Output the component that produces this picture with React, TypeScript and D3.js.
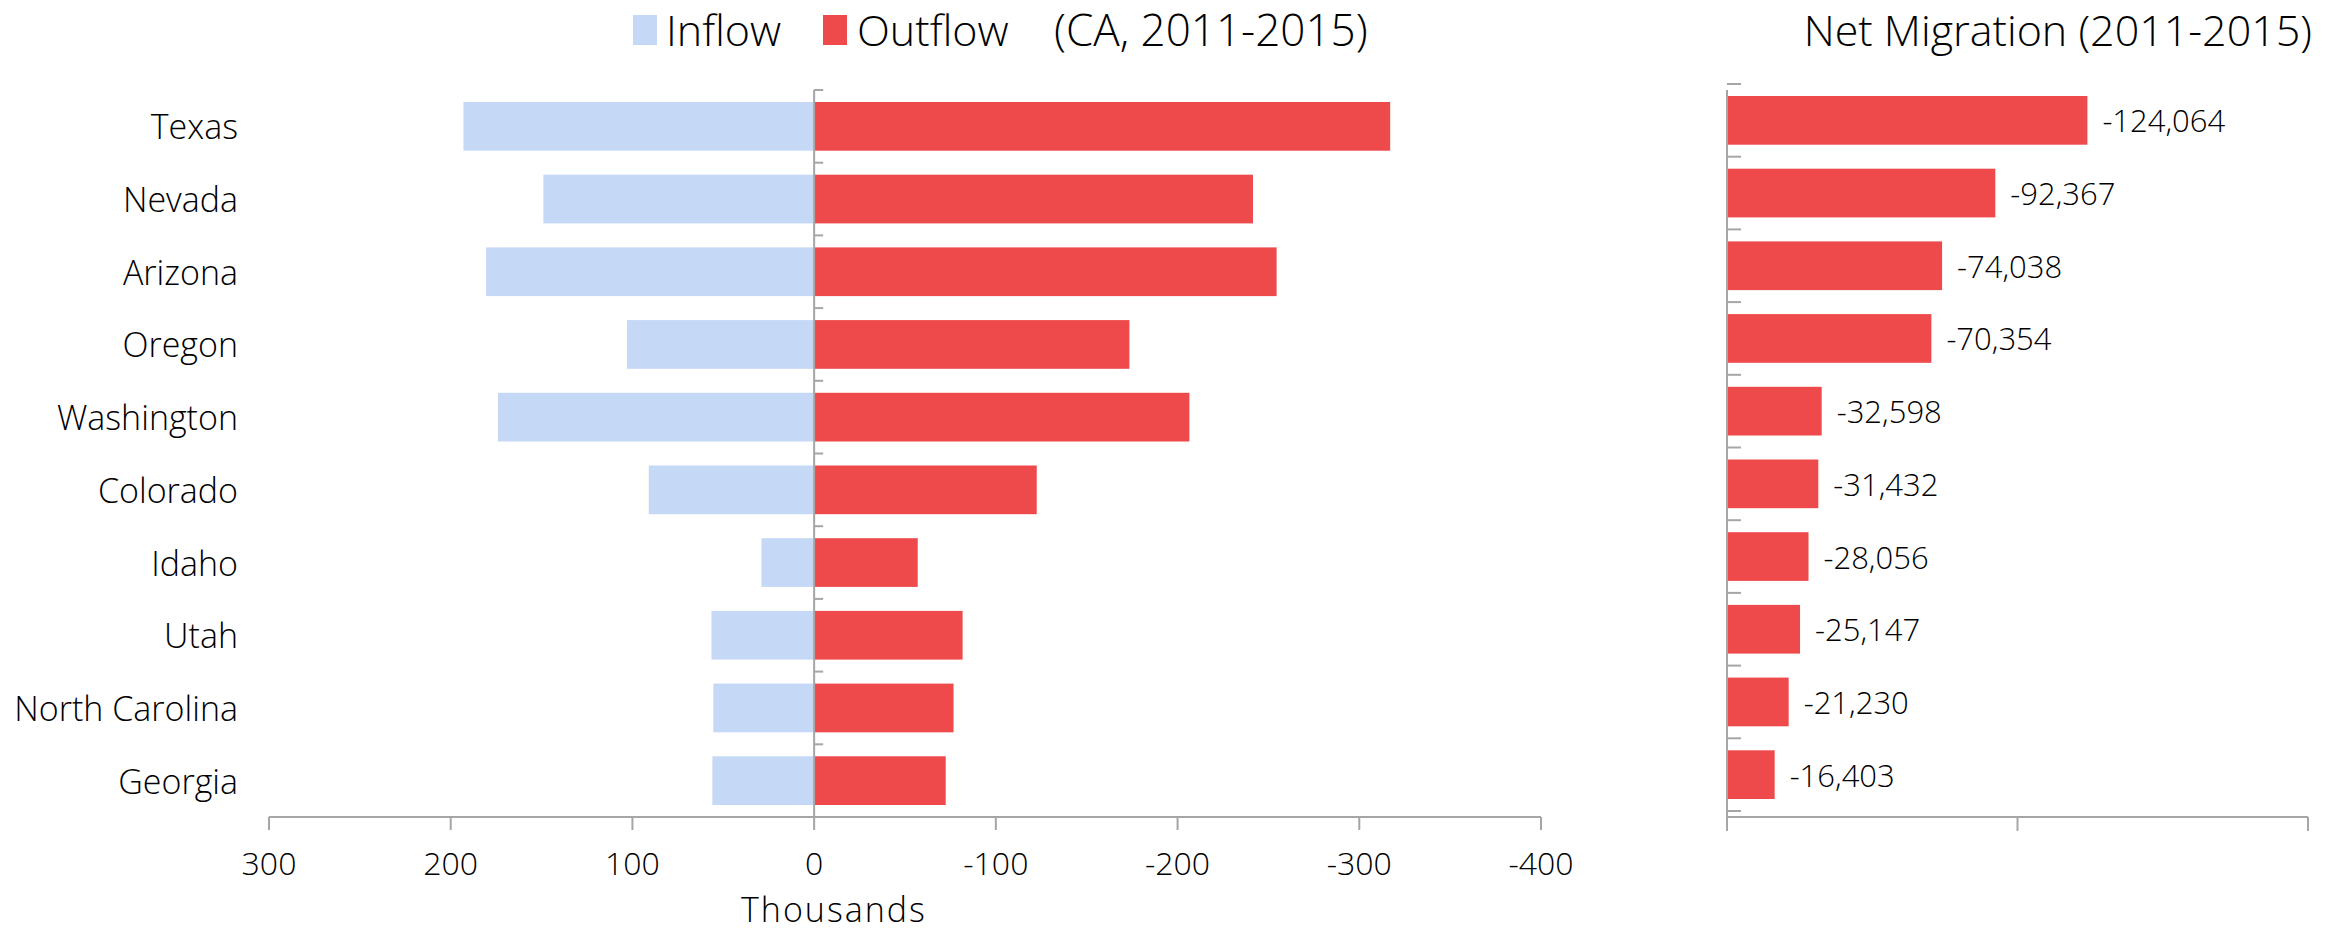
import React, { useEffect, useRef } from "react";
import * as d3 from "d3";

const states = ["Texas", "Nevada", "Arizona", "Oregon", "Washington", "Colorado", "Idaho", "Utah", "North Carolina", "Georgia"];
const inflow = [193, 149, 180.5, 103, 174, 91, 29, 56.5, 55.5, 56];
const outflow = [-317, -241.5, -254.5, -173.5, -206.5, -122.5, -57, -81.7, -76.7, -72.4];
const netMigration = [-124064, -92367, -74038, -70354, -32598, -31432, -28056, -25147, -21230, -16403];
const xTicks = [300, 200, 100, 0, -100, -200, -300, -400];
const netTicks = [0, -100000, -200000];

const W = 2341;
const H = 933;
const FONT = "'Open Sans', 'Liberation Sans', Arial, sans-serif";
const WEIGHT = 300;
const BLUE = "#c5d8f5";
const RED = "#ee4a4c";
const AXIS = "#a6a6a6";
const fmt = (v: number) => d3.format(",")(v).replace("\u2212", "-");

export default function App() {
  const ref = useRef<SVGSVGElement>(null);
  useEffect(() => {
    const svg = d3.select(ref.current);
    svg.selectAll("*").remove();

    const top = 90;
    const bottom = 817;
    const y = d3.scaleBand<string>().domain(states).range([top, bottom]).paddingInner(0.33).paddingOuter(0.165);
    const x = d3.scaleLinear().domain([300, -400]).range([269, 1541]);
    const xn = d3.scaleLinear().domain([0, -200000]).range([1727, 2308]);

    const txt = (sel: any, size: number) =>
      sel.attr("font-family", FONT).attr("font-weight", WEIGHT).attr("font-size", size).attr("fill", "#000");

    const g = svg.append("g");

    g.selectAll("rect.in").data(states).enter().append("rect")
      .attr("x", (_, i) => x(inflow[i]))
      .attr("y", (d) => y(d)!)
      .attr("width", (_, i) => x(0) - x(inflow[i]))
      .attr("height", y.bandwidth())
      .attr("fill", BLUE);
    g.selectAll("rect.out").data(states).enter().append("rect")
      .attr("x", x(0))
      .attr("y", (d) => y(d)!)
      .attr("width", (_, i) => x(outflow[i]) - x(0))
      .attr("height", y.bandwidth())
      .attr("fill", RED);

    txt(g.selectAll("text.cat").data(states).enter().append("text")
      .attr("x", 238)
      .attr("y", (d) => y(d)! + y.bandwidth() / 2)
      .attr("text-anchor", "end")
      .attr("dominant-baseline", "central"), 34)
      .text((d) => d);

    g.append("line").attr("x1", x(300)).attr("x2", x(-400)).attr("y1", bottom).attr("y2", bottom)
      .attr("stroke", AXIS).attr("stroke-width", 2);
    xTicks.forEach((t) => {
      g.append("line").attr("x1", x(t)).attr("x2", x(t)).attr("y1", bottom).attr("y2", bottom + 13)
        .attr("stroke", AXIS).attr("stroke-width", 2);
      txt(g.append("text").attr("x", x(t)).attr("y", 875).attr("text-anchor", "middle"), 32)
        .text(String(t));
    });
    txt(g.append("text").attr("x", 834).attr("y", 922).attr("text-anchor", "middle")
      .attr("letter-spacing", 2), 34)
      .text("Thousands");

    g.append("line").attr("x1", x(0)).attr("x2", x(0)).attr("y1", top).attr("y2", bottom)
      .attr("stroke", AXIS).attr("stroke-width", 2);
    const boundaries = d3.range(states.length + 1).map((i) => top + i * y.step());
    boundaries.forEach((b) => {
      g.append("line").attr("x1", x(0)).attr("x2", x(0) + 9).attr("y1", b).attr("y2", b)
        .attr("stroke", AXIS).attr("stroke-width", 2);
    });

    const lg = svg.append("g");
    lg.append("rect").attr("x", 633).attr("y", 15).attr("width", 24).attr("height", 30).attr("fill", BLUE);
    txt(lg.append("text").attr("x", 666).attr("y", 46), 43).text("Inflow");
    lg.append("rect").attr("x", 823).attr("y", 15).attr("width", 24).attr("height", 30).attr("fill", RED);
    txt(lg.append("text").attr("x", 857).attr("y", 46), 43).text("Outflow");
    txt(lg.append("text").attr("x", 1054).attr("y", 46), 44).text("(CA, 2011-2015)");

    const off = -6;
    const r = svg.append("g");
    r.selectAll("rect.net").data(states).enter().append("rect")
      .attr("x", xn(0))
      .attr("y", (d) => y(d)! + off)
      .attr("width", (_, i) => xn(netMigration[i]) - xn(0))
      .attr("height", y.bandwidth())
      .attr("fill", RED);
    txt(r.selectAll("text.val").data(states).enter().append("text")
      .attr("x", (_, i) => xn(netMigration[i]) + 15)
      .attr("y", (d) => y(d)! + off + y.bandwidth() / 2)
      .attr("dominant-baseline", "central"), 31)
      .text((_, i) => fmt(netMigration[i]));
    r.append("line").attr("x1", xn(0)).attr("x2", xn(0)).attr("y1", top).attr("y2", bottom)
      .attr("stroke", AXIS).attr("stroke-width", 2);
    boundaries.forEach((b) => {
      r.append("line").attr("x1", xn(0)).attr("x2", xn(0) + 14).attr("y1", b + off).attr("y2", b + off)
        .attr("stroke", AXIS).attr("stroke-width", 2);
    });
    r.append("line").attr("x1", xn(0)).attr("x2", xn(-200000)).attr("y1", bottom).attr("y2", bottom)
      .attr("stroke", AXIS).attr("stroke-width", 2);
    netTicks.forEach((t) => {
      r.append("line").attr("x1", xn(t)).attr("x2", xn(t)).attr("y1", bottom).attr("y2", bottom + 14)
        .attr("stroke", AXIS).attr("stroke-width", 2);
    });
    txt(r.append("text").attr("x", 2312).attr("y", 46).attr("text-anchor", "end"), 43)
      .text("Net Migration (2011-2015)");
  }, []);

  return (
    <svg ref={ref} width={W} height={H} style={{ position: "absolute", left: 0, top: 0, background: "#fff" }} />
  );
}
